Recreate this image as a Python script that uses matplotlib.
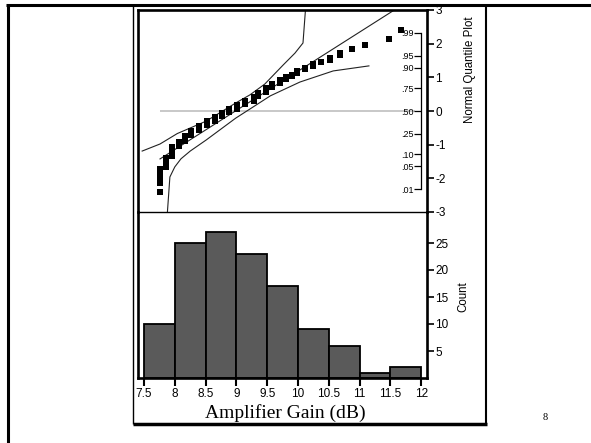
import matplotlib
matplotlib.use("Agg")
import matplotlib.pyplot as plt
from matplotlib.lines import Line2D
import numpy as np
from statistics import NormalDist

plt.rcParams['font.family'] = ['Liberation Sans', 'DejaVu Sans']
plt.rcParams['axes.unicode_minus'] = False

# histogram (Amplifier Gain, dB)
bin_left = [7.5, 8.0, 8.5, 9.0, 9.5, 10.0, 10.5, 11.0, 11.5]
counts = [10, 25, 27, 23, 17, 9, 6, 1, 2]
x_ticks = [7.5, 8, 8.5, 9, 9.5, 10, 10.5, 11, 11.5, 12]
x_labels = ['7.5', '8', '8.5', '9', '9.5', '10', '10.5', '11', '11.5', '12']

# sorted gains (tied values)
qq_gain = [7.76, 7.86, 7.96, 8.06, 8.16, 8.26, 8.39, 8.52, 8.66, 8.77,
           8.88, 9.01, 9.14, 9.28, 9.35, 9.48, 9.58, 9.71, 9.80, 9.90,
           9.98, 10.11, 10.24, 10.38, 10.52, 10.68, 10.87, 11.08, 11.48, 11.67]
qq_ties = [5, 5, 7, 5, 6, 6, 6, 6, 6, 6,
           5, 6, 5, 6, 5, 6, 4, 4, 3, 2,
           3, 2, 2, 1, 2, 2, 1, 1, 1, 1]

# reference line and confidence curves (gain, normal quantile)
ref_gain = [7.76, 11.56]
ref_z = [-1.424, 2.997]
upper_gain = [7.47, 7.76, 8.04, 8.51, 8.99, 9.22, 9.46, 9.76, 9.95, 10.08, 10.12]
upper_z = [-1.19, -0.98, -0.67, -0.30, 0.24, 0.48, 0.80, 1.37, 1.72, 2.02, 3.0]
lower_gain = [7.88, 7.92, 8.00, 8.10, 8.25, 8.51, 8.99, 9.22, 9.55, 10.03, 10.57, 11.15]
lower_z = [-3.0, -1.96, -1.66, -1.42, -1.19, -0.86, -0.21, 0.06, 0.45, 0.86, 1.19, 1.34]

z_ticks = [3, 2, 1, 0, -1, -2, -3]
prob_ticks = [.99, .95, .90, .75, .50, .25, .10, .05, .01]
prob_labels = ['.99', '.95', '.90', '.75', '.50', '.25', '.10', '.05', '.01']
count_ticks = [5, 10, 15, 20, 25]

W, H = 591, 443
fig = plt.figure(figsize=(W / 100, H / 100), dpi=100)


def fx(px):
    return px / W


def fy(py):
    return 1 - py / H


def fline(x0, y0, x1, y1, lw):
    fig.add_artist(Line2D([fx(x0), fx(x1)], [fy(y0), fy(y1)], color='black',
                          lw=lw, transform=fig.transFigure, solid_capstyle='butt'))


# slide frame + picture box
fline(6, 4.5, 591, 4.5, 2.2)
fline(8, 4, 8, 443, 2.2)
fline(133, 4, 133, 424, 1.0)
fline(485.5, 4, 485.5, 424, 1.5)
fline(132.5, 423.5, 487, 423.5, 2.5)

L, R, T, M, B = 138, 427, 10, 212, 378
xs = (421.3 - 144) / 4.5
xlim = (7.5 - (144 - L) / xs, 12 + (R - 421.3) / xs)

ax2 = fig.add_axes([fx(L), fy(B), (R - L) / W, (B - M) / H])
ax1 = fig.add_axes([fx(L), fy(M), (R - L) / W, (M - T) / H])
ax1.patch.set_visible(False)
ax2.patch.set_visible(False)

# probability scale inside the quantile plot
axp = ax1.twinx()
axp.set_ylim(-3, 3)
for s in ['top', 'bottom', 'right']:
    axp.spines[s].set_visible(False)
axp.spines['left'].set_position(('axes', (421.5 - L) / (R - L)))
zp = [NormalDist().inv_cdf(p) for p in prob_ticks]
axp.spines['left'].set_bounds(min(zp), max(zp))
axp.spines['left'].set_linewidth(0.9)
axp.yaxis.tick_left()
axp.set_yticks(zp)
axp.set_yticklabels(prob_labels)
axp.tick_params(axis='y', direction='out', length=5, width=0.9, pad=0.5, labelsize=6.5)

# quantile plot
pos = np.arange(1, sum(qq_ties) + 1) / (sum(qq_ties) + 1)
qz = [NormalDist().inv_cdf(p) for p in pos]
ax1.hlines(0, 7.76, 11.9, color='#c4c4c4', lw=1.3)
ax1.plot(ref_gain, ref_z, color='#222222', lw=0.8)
ax1.plot(upper_gain, upper_z, color='#222222', lw=0.8)
ax1.plot(lower_gain, lower_z, color='#222222', lw=0.8)
ax1.plot(np.repeat(qq_gain, qq_ties), qz, 's', color='black', ms=4.0, mew=0)
ax1.set_xlim(xlim)
ax1.set_ylim(-3, 3)
ax1.set_xticks([])
ax1.yaxis.tick_right()
ax1.set_yticks(z_ticks)
ax1.set_yticklabels([str(t) for t in z_ticks])
ax1.tick_params(axis='y', direction='out', length=5, width=1.2, pad=1, labelsize=8.5)
for s in ['top', 'left', 'right']:
    ax1.spines[s].set_linewidth(1.9)
ax1.spines['bottom'].set_linewidth(1.0)

# histogram
ax2.bar(bin_left, counts, width=0.5, align='edge', color='#5a5a5a',
        edgecolor='black', lw=1.3)
ax2.set_xlim(xlim)
ax2.set_ylim(0, (B - M) / 5.4)
ax2.spines['top'].set_visible(False)
for s in ['bottom', 'left', 'right']:
    ax2.spines[s].set_linewidth(1.9)
ax2.yaxis.tick_right()
ax2.set_yticks(count_ticks)
ax2.tick_params(axis='y', direction='out', length=5, width=1.2, pad=1, labelsize=8.5)
ax2.set_xticks(x_ticks)
ax2.set_xticklabels(x_labels)
ax2.tick_params(axis='x', direction='out', length=6, width=1.5, pad=1.5, labelsize=8.5)

fig.text(fx(470), fy(70), 'Normal Quantile Plot', rotation=90, ha='center', va='center', fontsize=8.3)
fig.text(fx(463), fy(297), 'Count', rotation=90, ha='center', va='center', fontsize=8.3)
fig.text(fx(285), fy(413), 'Amplifier Gain (dB)', ha='center', va='center',
         fontsize=14, family='Liberation Serif')
fig.text(fx(545), fy(417), '8', ha='center', va='center', fontsize=7.5, family='Liberation Serif')

fig.savefig('out.png', dpi=100)
